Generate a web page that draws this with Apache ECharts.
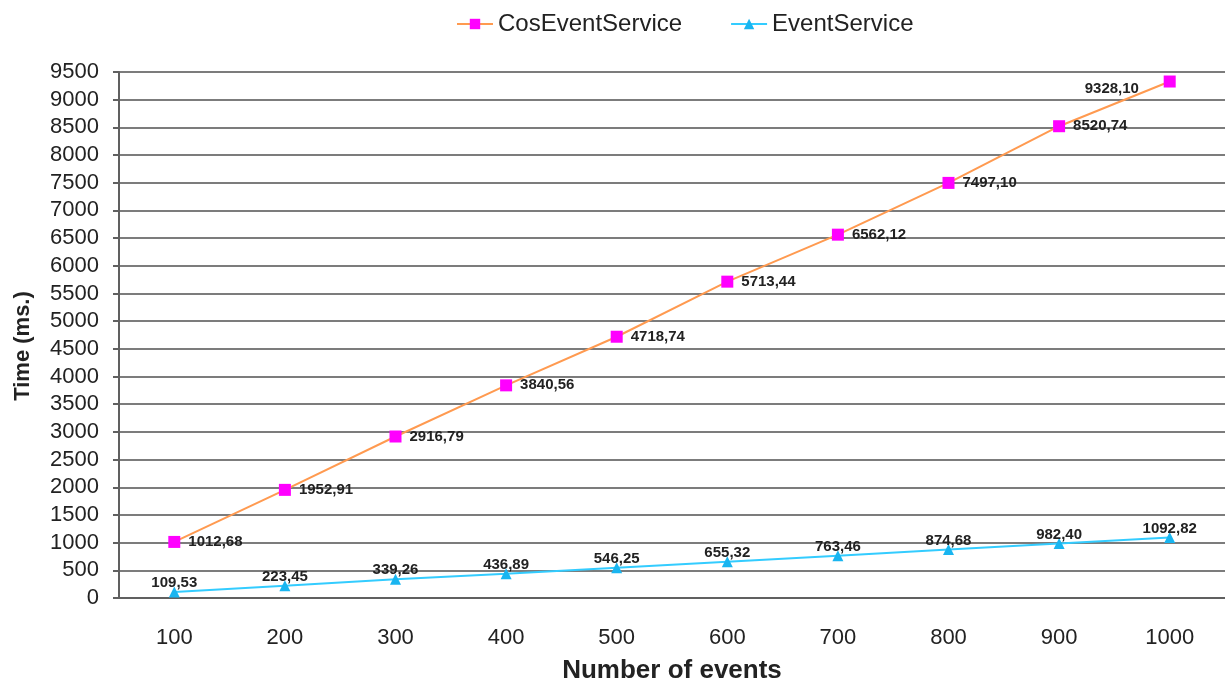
<!DOCTYPE html>
<html><head><meta charset="utf-8">
<script src="https://cdn.jsdelivr.net/npm/echarts@6/dist/echarts.min.js"></script>
<style>html,body{margin:0;padding:0;background:#fff}#c{width:1225px;height:682px}</style>
</head><body><div id="c"></div>
<script>
const categories = ['100','200','300','400','500','600','700','800','900','1000'];
const cosEventService = [1012.68, 1952.91, 2916.79, 3840.56, 4718.74, 5713.44, 6562.12, 7497.10, 8520.74, 9328.10];
const eventService = [109.53, 223.45, 339.26, 436.89, 546.25, 655.32, 763.46, 874.68, 982.40, 1092.82];
const yTicks = {min: 0, max: 9500, interval: 500};

const fmt = p => p.value.toFixed(2).replace('.', ',');
const chart = echarts.init(document.getElementById('c'));
const cosData = cosEventService.map((v, i) => i === cosEventService.length - 1
  ? {value: v, label: {position: [-79, 6]}} : v);
chart.setOption({
  animation: false,
  textStyle: {fontFamily: 'Liberation Sans, Arial, sans-serif'},
  legend: {
    top: 7, left: 451, itemWidth: 36, itemHeight: 13, itemGap: 48,
    textStyle: {fontSize: 24, color: '#222'},
    data: ['CosEventService', 'EventService']
  },
  grid: {left: 119, right: 0, top: 72, bottom: 84, outerBoundsMode: 'none', containLabel: false},
  graphic: [{
    type: 'text', x: 23, y: 346, rotation: Math.PI / 2,
    style: {text: 'Time (ms.)', font: 'bold 22px "Liberation Sans", Arial, sans-serif',
      fill: '#222', align: 'center', verticalAlign: 'middle'}
  }],
  xAxis: {
    type: 'category', data: categories, boundaryGap: true,
    name: 'Number of events', nameLocation: 'middle', nameGap: 60,
    nameTextStyle: {fontSize: 26, fontWeight: 'bold', color: '#222'},
    axisLine: {lineStyle: {color: '#606060', width: 2}},
    axisTick: {length: 9, lineStyle: {color: '#606060', width: 2}},
    axisLabel: {fontSize: 22, color: '#222', margin: 29}
  },
  yAxis: {
    type: 'value', min: yTicks.min, max: yTicks.max, interval: yTicks.interval,
    axisLine: {show: true, lineStyle: {color: '#606060', width: 2}},
    axisTick: {show: true, length: 6, lineStyle: {color: '#606060', width: 2}},
    axisLabel: {fontSize: 22, color: '#222', margin: 20, formatter: v => String(v)},
    splitLine: {lineStyle: {color: '#505050', width: 1.6}}
  },
  series: [
    {
      name: 'CosEventService', type: 'line', data: cosData,
      symbol: 'rect', symbolSize: 12,
      itemStyle: {color: '#FF00FF'},
      lineStyle: {color: '#FF9A50', width: 2},
      label: {show: true, position: 'right', distance: 8, formatter: fmt,
        fontSize: 15, fontWeight: 'bold', color: '#222'},
      z: 3
    },
    {
      name: 'EventService', type: 'line', data: eventService,
      symbol: 'triangle', symbolSize: 11,
      itemStyle: {color: '#19B5F0'},
      lineStyle: {color: '#33CCFF', width: 2},
      label: {show: true, position: 'top', distance: -4, formatter: fmt,
        fontSize: 15, fontWeight: 'bold', color: '#222'},
      z: 3
    }
  ]
});
</script></body></html>
